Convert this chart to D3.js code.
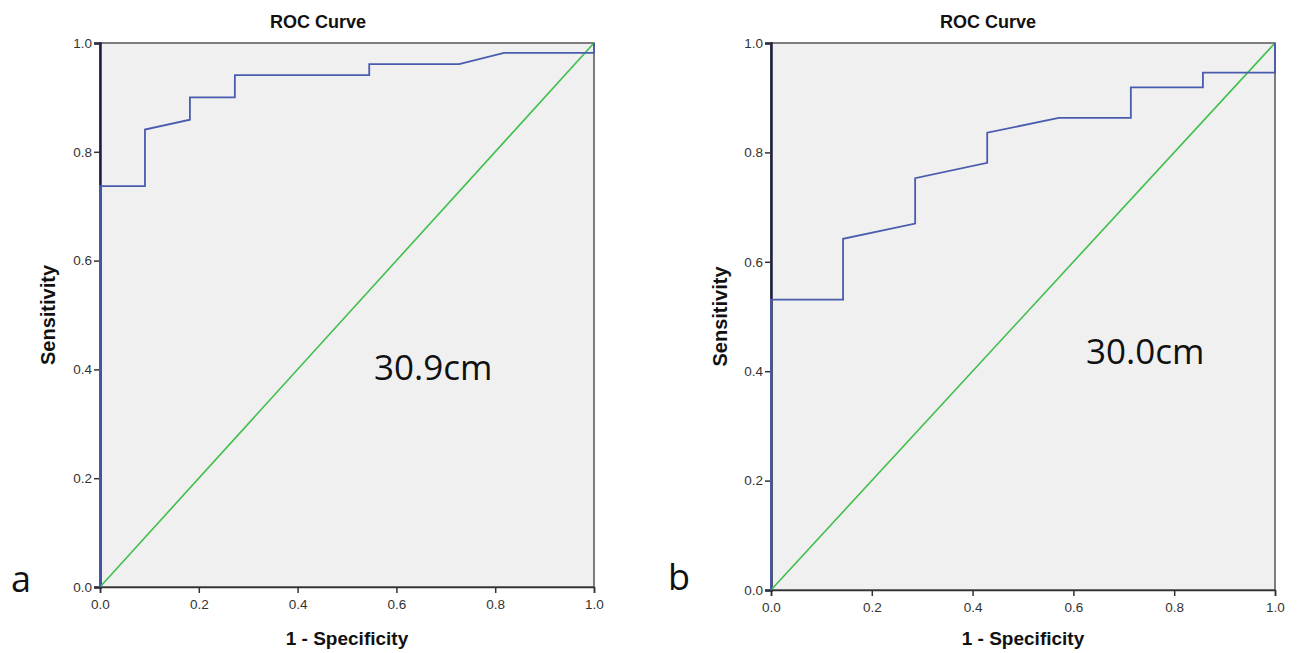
<!DOCTYPE html>
<html lang="en">
<head>
  <meta charset="UTF-8">
  <title>ROC Curves</title>
  <script src="https://d3js.org/d3.v7.min.js"></script>
  <style>
    body { margin: 0; background: #fff; }
    svg { display: block; }
    .tick text { font-family: "Liberation Sans Narrow", "Liberation Sans", Arial, sans-serif; font-size: 13.5px; fill: #333; }
    .tick line { stroke: #333; stroke-width: 1.5; }
    .title, .axis-title { font-family: "Liberation Sans", Arial, sans-serif; font-weight: bold; fill: #111; }
    .panel-label, .cutoff { font-family: "Open Sans", "Noto Sans", sans-serif; fill: #111; }
  </style>
</head>
<body>
  <svg id="chart" width="1298" height="653"></svg>
  <script>
    // data
    const axisTicks = [0, 0.2, 0.4, 0.6, 0.8, 1.0];
    const panelLabels = ['a', 'b'];
    const cutoffLabels = ['30.9cm', '30.0cm'];

    const rocA_fpr = [0, 0, 0.091, 0.091, 0.182, 0.182, 0.273, 0.273, 0.545, 0.545, 0.727, 0.818, 1, 1];
    const rocA_tpr = [0, 0.737, 0.737, 0.841, 0.859, 0.9, 0.9, 0.941, 0.941, 0.961, 0.961, 0.982, 0.982, 1];

    const rocB_fpr = [0, 0, 0.143, 0.143, 0.286, 0.286, 0.429, 0.429, 0.571, 0.714, 0.714, 0.857, 0.857, 1, 1];
    const rocB_tpr = [0, 0.531, 0.531, 0.642, 0.67, 0.753, 0.781, 0.836, 0.863, 0.863, 0.919, 0.919, 0.946, 0.946, 1];

    const diag = [0, 1];

    const panels = [
      { fpr: rocA_fpr, tpr: rocA_tpr, label: panelLabels[0], cutoff: cutoffLabels[0],
        box: { x0: 100, x1: 594, y0: 43, y1: 587 }, labelPos: [11, 592], cutoffPos: [374, 380],
        yTitleX: 48, titleX: 318 },
      { fpr: rocB_fpr, tpr: rocB_tpr, label: panelLabels[1], cutoff: cutoffLabels[1],
        box: { x0: 771, x1: 1275, y0: 43, y1: 590 }, labelPos: [668, 590], cutoffPos: [1086, 364],
        yTitleX: 720, titleX: 988 }
    ];

    const svg = d3.select('#chart');

    panels.forEach(p => {
      const b = p.box;
      const x = d3.scaleLinear().domain([0, 1]).range([b.x0, b.x1]);
      const y = d3.scaleLinear().domain([0, 1]).range([b.y1, b.y0]);
      const g = svg.append('g');

      g.append('rect')
        .attr('x', b.x0).attr('y', b.y0)
        .attr('width', b.x1 - b.x0).attr('height', b.y1 - b.y0)
        .attr('fill', '#f0f0f0')
        .attr('stroke', '#555').attr('stroke-width', 1.5);

      const fmt = d3.format('.1f');
      g.append('g')
        .attr('transform', `translate(0,${b.y1})`)
        .call(d3.axisBottom(x).tickValues(axisTicks).tickFormat(fmt).tickSize(6).tickPadding(6))
        .call(a => a.select('.domain').attr('stroke', '#333').attr('stroke-width', 1.5));

      g.append('g')
        .attr('transform', `translate(${b.x0},0)`)
        .call(d3.axisLeft(y).tickValues(axisTicks).tickFormat(fmt).tickSize(6).tickPadding(2))
        .call(a => a.select('.domain').attr('stroke', '#1c2040').attr('stroke-width', 2.5));

      // chance line
      g.append('path')
        .datum(diag)
        .attr('d', d3.line().x(d => x(d)).y(d => y(d)))
        .attr('fill', 'none')
        .attr('stroke', '#3fbf4c')
        .attr('stroke-width', 1.6);

      // ROC curve
      g.append('path')
        .datum(d3.range(p.fpr.length))
        .attr('d', d3.line().x(i => x(p.fpr[i])).y(i => y(p.tpr[i])))
        .attr('fill', 'none')
        .attr('stroke', '#4a5cae')
        .attr('stroke-width', 1.8);

      const cx = (b.x0 + b.x1) / 2;
      g.append('text').attr('class', 'title')
        .attr('x', p.titleX).attr('y', 28).attr('text-anchor', 'middle')
        .attr('font-size', 18)
        .text('ROC Curve');

      g.append('text').attr('class', 'axis-title')
        .attr('x', cx).attr('y', 645).attr('text-anchor', 'middle')
        .attr('font-size', 19)
        .text('1 - Specificity');

      g.append('text').attr('class', 'axis-title')
        .attr('transform', `translate(${p.yTitleX + 7},${(b.y0 + b.y1) / 2}) rotate(-90)`)
        .attr('text-anchor', 'middle')
        .attr('font-size', 20)
        .text('Sensitivity');

      g.append('text').attr('class', 'panel-label')
        .attr('x', p.labelPos[0]).attr('y', p.labelPos[1])
        .attr('font-size', 36)
        .text(p.label);

      g.append('text').attr('class', 'cutoff')
        .attr('x', p.cutoffPos[0]).attr('y', p.cutoffPos[1])
        .attr('font-size', 35)
        .text(p.cutoff);
    });
  </script>
</body>
</html>
